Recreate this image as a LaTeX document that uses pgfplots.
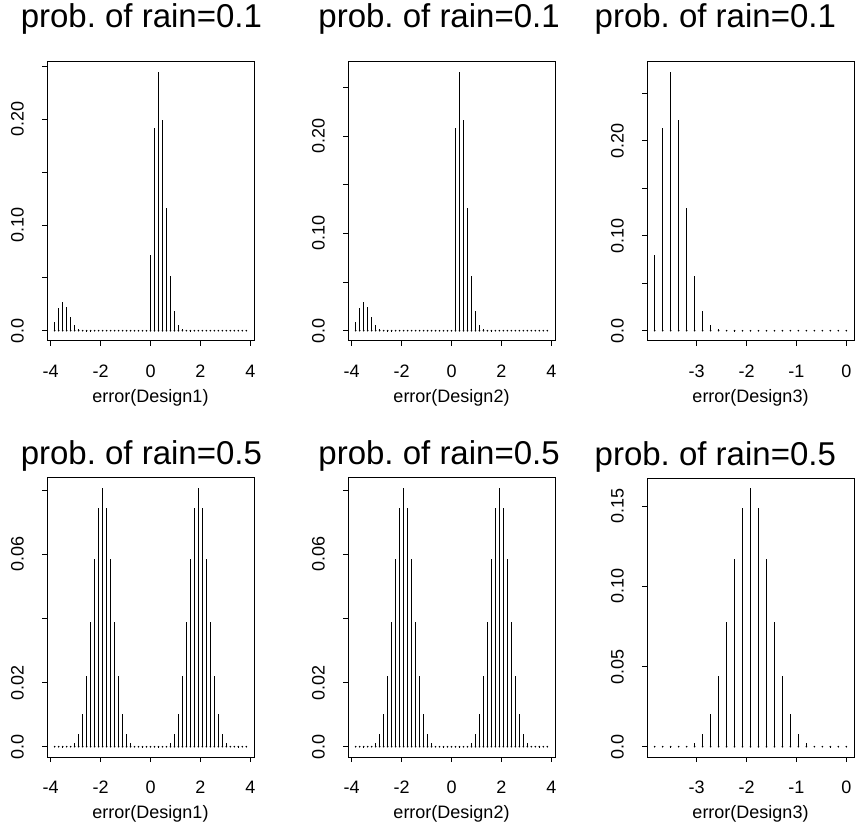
\documentclass[border=0pt]{standalone}
\usepackage{fontspec}
\setmainfont{Liberation Sans}
\usepackage{pgfplots}
\usepackage{pgfplotstable}
\pgfplotsset{compat=1.18}
\frenchspacing

% x, design1 (p=0.1), design2 (p=0.1), design1/2 (p=0.5)
\pgfplotstableread{
x d1 d2 d5
-3.84 0.007977 0.008668 0.0000000298
-3.68 0.021271 0.023115 0.00000072
-3.52 0.027180 0.029536 0.0000082
-3.36 0.022146 0.024066 0.0000603
-3.20 0.012919 0.014038 0.0003167
-3.04 0.005742 0.006239 0.0012667
-2.88 0.002020 0.002195 0.0040113
-2.72 0.000577 0.000627 0.0103146
-2.56 0.000136 0.000148 0.0219186
-2.40 0.000027 0.000029 0.0389665
-2.24 0.0000045 0.0000049 0.0584495
-2.08 0 0 0.0743903
-1.92 0 0 0.0805902
-1.76 0 0 0.0743903
-1.60 0 0 0.0584495
-1.44 0 0 0.0389665
-1.28 0 0 0.0219186
-1.12 0 0 0.0103146
-0.96 0 0 0.0040113
-0.80 0 0 0.0012667
-0.64 0 0 0.0003167
-0.48 0 0 0.0000603
-0.32 0 0 0.0000082
-0.16 0 0 0.00000072
0.00 0.071789 0 0.00000006
0.16 0.191439 0.208032 0.00000072
0.32 0.244616 0.265820 0.0000082
0.48 0.199318 0.216595 0.0000603
0.64 0.116268 0.126346 0.0003167
0.80 0.051675 0.056154 0.0012667
0.96 0.018182 0.019758 0.0040113
1.12 0.005195 0.005645 0.0103146
1.28 0.001227 0.001333 0.0219186
1.44 0.000242 0.000263 0.0389665
1.60 0.000040 0.000044 0.0584495
1.76 0.0000057 0.0000062 0.0743903
1.92 0 0 0.0805902
2.08 0 0 0.0743903
2.24 0 0 0.0584495
2.40 0 0 0.0389665
2.56 0 0 0.0219186
2.72 0 0 0.0103146
2.88 0 0 0.0040113
3.04 0 0 0.0012667
3.20 0 0 0.0003167
3.36 0 0 0.0000603
3.52 0 0 0.0000082
3.68 0 0 0.00000072
3.84 0 0 0.00000003
}\tabA

% x, design3 (p=0.1), design3 (p=0.5)
\pgfplotstableread{
x p1 p5
-3.84 0.079766 0.0000000596
-3.68 0.212710 0.00000143
-3.52 0.271796 0.00001645
-3.36 0.221464 0.0001206
-3.20 0.129187 0.0006334
-3.04 0.057417 0.0025334
-2.88 0.020202 0.0080226
-2.72 0.005772 0.0206292
-2.56 0.001363 0.0438371
-2.40 0.000269 0.0779327
-2.24 0.0000449 0.1168990
-2.08 0.0000064 0.1487806
-1.92 0.0000008 0.1611803
-1.76 0 0.1487806
-1.60 0 0.1168990
-1.44 0 0.0779327
-1.28 0 0.0438371
-1.12 0 0.0206292
-0.96 0 0.0080226
-0.80 0 0.0025334
-0.64 0 0.0006334
-0.48 0 0.0001206
-0.32 0 0.00001645
-0.16 0 0.00000143
0.00 0 0.0000000596
}\tabB

\pgfplotsset{
  panel/.style={
    scale only axis, width=207pt, height=279pt, anchor=south west,
    axis line style={line width=1pt},
    tick align=outside, major tick length=5pt,
    tick style={line width=0.8pt, black},
    xtick pos=bottom, ytick pos=left,
    scaled x ticks=false, scaled y ticks=false,
    /pgf/number format/assume math mode=true,
    tick label style={font=\fontsize{18}{20}\selectfont},
    xticklabel style={anchor=north, inner sep=0pt},
    xticklabel shift=19pt,
    yticklabel style={rotate=90, anchor=south, inner sep=0pt},
    yticklabel shift=18pt,
    title style={font=\fontsize{33}{36}\selectfont, anchor=base, yshift=28pt},
    xlabel style={font=\fontsize{18}{20}\selectfont, at={(axis description cs:0.5,0)}, anchor=base, yshift=-61pt},
    clip=false,
  },
  bars/.style={ycomb, black, line width=1.3pt, mark=none},
  dots/.style={only marks, mark=*, mark size=0.6pt, black},
  wide/.style={xmin=-4.1472, xmax=4.1472, xtick={-4,-2,0,2,4}, xticklabels={-4,-2,0,2,4}},
  narrow/.style={xmin=-3.9936, xmax=0.1536, xtick={-3,-2,-1,0}, xticklabels={-3,-2,-1,0}},
  top/.style={ytick={0,0.05,0.10,0.15,0.20,0.25}, yticklabels={0.0,,0.10,,0.20,}},
}

\begin{document}
\begin{tikzpicture}
\useasboundingbox (0pt,0pt) rectangle (861pt,828pt);

% ---- top row: prob. of rain = 0.1
\begin{axis}[panel, wide, top, at={(47pt,487pt)},
  ymin=-0.009785, ymax=0.254401,
  title={prob. of rain=0.1}, title style={at={(0.456,1)}},
  xlabel={error(Design1)}]
\addplot[dots] table[x=x, y expr=0] {\tabA};
\addplot[bars] table[x=x, y=d1] {\tabA};
\end{axis}

\begin{axis}[panel, wide, top, at={(348pt,487pt)},
  ymin=-0.01063, ymax=0.27645,
  title={prob. of rain=0.1}, title style={at={(0.44,1)}},
  xlabel={error(Design2)}]
\addplot[dots] table[x=x, y expr=0] {\tabA};
\addplot[bars] table[x=x, y=d2] {\tabA};
\end{axis}

\begin{axis}[panel, narrow, top, at={(647pt,487pt)},
  ymin=-0.010872, ymax=0.282668,
  title={prob. of rain=0.1}, title style={at={(0.33,1)}},
  xlabel={error(Design3)}]
\addplot[dots] table[x=x, y expr=0] {\tabB};
\addplot[bars] table[x=x, y=p1] {\tabB};
\end{axis}

% ---- bottom row: prob. of rain = 0.5
\begin{axis}[panel, wide, at={(47pt,71pt)},
  ymin=-0.003224, ymax=0.083814,
  ytick={0,0.02,0.04,0.06,0.08}, yticklabels={0.0,0.02,,0.06,},
  title={prob. of rain=0.5}, title style={at={(0.456,1)}, yshift=-21pt},
  xlabel={error(Design1)}]
\addplot[dots] table[x=x, y expr=0] {\tabA};
\addplot[bars] table[x=x, y=d5] {\tabA};
\end{axis}

\begin{axis}[panel, wide, at={(348pt,71pt)},
  ymin=-0.003224, ymax=0.083814,
  ytick={0,0.02,0.04,0.06,0.08}, yticklabels={0.0,0.02,,0.06,},
  title={prob. of rain=0.5}, title style={at={(0.44,1)}, yshift=-21pt},
  xlabel={error(Design2)}]
\addplot[dots] table[x=x, y expr=0] {\tabA};
\addplot[bars] table[x=x, y=d5] {\tabA};
\end{axis}

\begin{axis}[panel, narrow, at={(647pt,71pt)},
  ymin=-0.006447, ymax=0.167627,
  ytick={0,0.05,0.10,0.15}, yticklabels={0.0,0.05,0.10,0.15},
  title={prob. of rain=0.5}, title style={at={(0.33,1)}, yshift=-21pt},
  xlabel={error(Design3)}]
\addplot[dots] table[x=x, y expr=0] {\tabB};
\addplot[bars] table[x=x, y=p5] {\tabB};
\end{axis}
\end{tikzpicture}
\end{document}
